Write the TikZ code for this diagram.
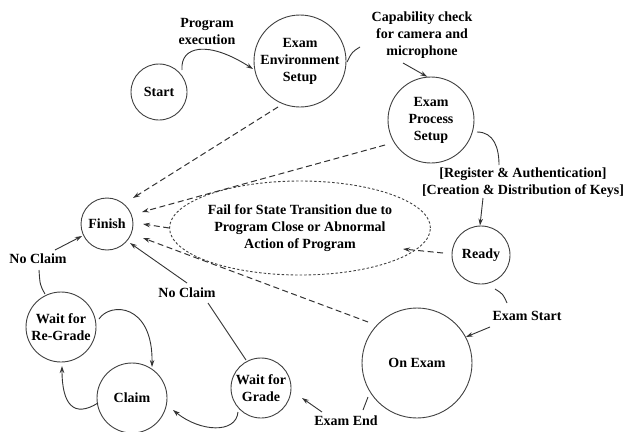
\documentclass[tikz,border=0pt]{standalone}
\usepackage{fontspec}
\setmainfont{Liberation Serif}
\usetikzlibrary{arrows.meta,shapes.geometric}
\begin{document}
\begin{tikzpicture}[x=1pt,y=-1pt,
  every node/.style={font=\fontsize{14}{17}\selectfont\bfseries, text=black},
  st/.style={draw=black!75, line width=0.9pt, circle, inner sep=0pt, align=center},
  lbl/.style={align=center, inner sep=0pt},
  conn/.style={draw=black!80, line width=0.9pt},
  arr/.style={conn, -{Stealth[length=7pt,width=4.5pt]}},
  dsh/.style={arr, line width=1pt, dash pattern=on 6pt off 3.5pt}]
\useasboundingbox (0,0) rectangle (626,431);
% states
\node[st, minimum size=56pt] (start) at (159,92) {Start};
\node[st, minimum size=92pt] (ees) at (300,61) {Exam\\Environment\\Setup};
\node[st, minimum size=86pt] (eps) at (431,120) {Exam\\Process\\Setup};
\node[st, minimum size=52pt] (finish) at (107,224) {Finish};
\node[draw=black!75, line width=0.9pt, ellipse, dash pattern=on 2.5pt off 2pt, minimum width=226pt, minimum height=94pt, inner sep=0pt, align=center] (fail) at (300,228) {Fail for State Transition due to\\Program Close or Abnormal\\Action of Program};
\node[st, minimum size=58pt] (ready) at (481,255) {Ready};
\node[st, minimum size=110pt] (onexam) at (417,363) {On Exam};
\node[st, minimum size=70pt] (wrg) at (61,327) {Wait for\\Re-Grade};
\node[st, minimum size=70pt] (claim) at (132,398) {Claim};
\node[st, minimum size=60pt] (wg) at (261,388) {Wait for\\Grade};
% labels
\node[lbl] (lprog) at (207,32) {Program\\execution};
\node[lbl] (lcap) at (422,35) {Capability check\\for camera and\\microphone};
\node[lbl] (lreg) at (523,183) {[Register \& Authentication]\\{}[Creation \& Distribution of Keys]};
\node[lbl] (lstart) at (527,316) {Exam Start};
\node[lbl] (lend) at (346,421) {Exam End};
\node[lbl] (lnc1) at (38,259) {No Claim};
\node[lbl] (lnc2) at (187,293) {No Claim};
% connector helper points
\coordinate (p1) at (182,70);
\coordinate (p2) at (253,69);
\coordinate (p3) at (347,62);
\coordinate (p4) at (360,47);
\coordinate (p5) at (403,63);
\coordinate (p6) at (477,132);
\coordinate (p7) at (499,165);
\coordinate (p8) at (483,198);
\coordinate (p9) at (495,289);
\coordinate (p10) at (507,303);
\coordinate (p11) at (490,327);
\coordinate (p12) at (368,397);
\coordinate (p13) at (363,410);
\coordinate (p14) at (322,412);
\coordinate (p15) at (302,398);
\coordinate (p16) at (238,412);
\coordinate (p17) at (173,410);
\coordinate (p18) at (98,403);
\coordinate (p19) at (62,366);
\coordinate (p20) at (99,319);
\coordinate (p21) at (152,367);
\coordinate (p22) at (45,294);
\coordinate (p23) at (39,270);
\coordinate (p24) at (55,250);
\coordinate (p25) at (82,236);
\coordinate (p26) at (246,360);
\coordinate (p27) at (208,303);
\coordinate (p28) at (187,283);
\coordinate (p29) at (130,243);
\coordinate (d1) at (278,107);
\coordinate (d2) at (133,198);
\coordinate (d3) at (385,145);
\coordinate (d4) at (142,212);
\coordinate (d5) at (143,224);
\coordinate (d6) at (443,253);
\coordinate (d7) at (403,249);
\coordinate (d8) at (368,322);
\coordinate (d9) at (143,238);
% solid transitions
\draw[arr] (p1) .. controls (180,46) and (208,40) .. (p2);
\draw[conn] (p3) .. controls (352,52) .. (p4);
\draw[arr] (p5) -- (eps.95);
\draw[conn] (p6) .. controls (494,132) and (499,148) .. (p7);
\draw[arr] (p8) -- (ready.92);
\draw[conn] (p9) .. controls (503,294) .. (p10);
\draw[arr] (p11) -- (onexam.28);
\draw[conn] (p12) .. controls (366,404) .. (p13);
\draw[arr] (p14) -- (p15);
\draw[arr] (p16) .. controls (236,434) and (200,432) .. (p17);
\draw[arr] (p18) .. controls (74,418) and (62,405) .. (p19);
\draw[arr] (p20) .. controls (110,302) and (153,303) .. (p21);
\draw[conn] (p22) .. controls (40,285) .. (p23);
\draw[arr] (p24) -- (p25);
\draw[conn] (p26) -- (p27);
\draw[arr] (p28) -- (p29);
% dashed failure transitions
\draw[dsh] (d1) -- (d2);
\draw[dsh] (d3) -- (d4);
\draw[dsh] (fail.west) -- (d5);
\draw[dsh] (d6) -- (d7);
\draw[dsh] (d8) -- (d9);
\end{tikzpicture}
\end{document}
